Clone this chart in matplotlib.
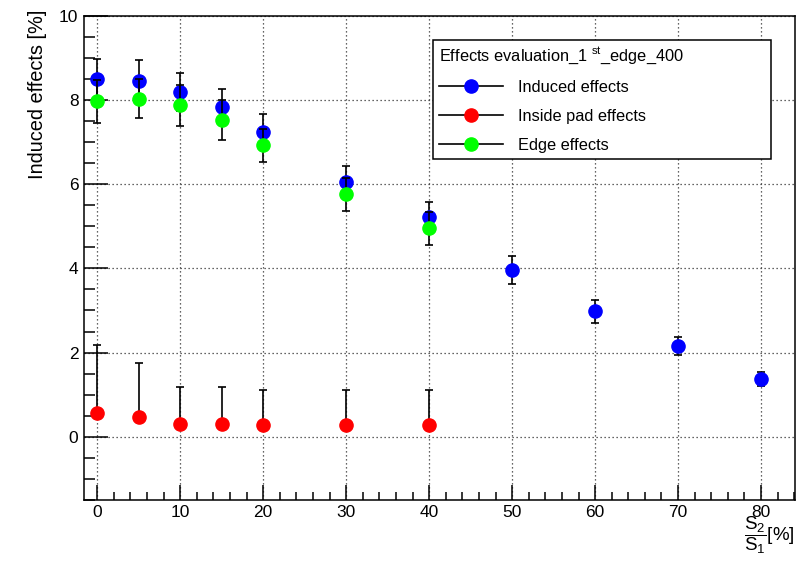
import matplotlib
matplotlib.use('Agg')
import matplotlib.pyplot as plt
from matplotlib.ticker import MultipleLocator

plt.rcParams['font.family'] = ['Liberation Sans', 'DejaVu Sans']
plt.rcParams['mathtext.fontset'] = 'custom'
plt.rcParams['mathtext.rm'] = 'Liberation Sans'
plt.rcParams['mathtext.it'] = 'Liberation Sans:italic'

# data
ratio = [0, 5, 10, 15, 20, 30, 40, 50, 60, 70, 80]
induced = [8.49, 8.45, 8.19, 7.83, 7.23, 6.04, 5.21, 3.97, 2.98, 2.16, 1.38]
induced_err = [0.49, 0.49, 0.45, 0.42, 0.43, 0.39, 0.37, 0.33, 0.27, 0.22, 0.17]

ratio_short = [0, 5, 10, 15, 20, 30, 40]
inside = [0.56, 0.46, 0.31, 0.31, 0.28, 0.28, 0.28]
inside_err_up = [1.63, 1.30, 0.88, 0.88, 0.82, 0.82, 0.82]
edge = [7.97, 8.03, 7.87, 7.52, 6.92, 5.76, 4.95]
edge_err = [0.51, 0.47, 0.48, 0.48, 0.40, 0.39, 0.40]

fig = plt.figure(figsize=(8.08, 5.63), dpi=100)
ax = fig.add_axes([0.104, 0.112, 0.880, 0.860])

eb = dict(fmt='o', ecolor='black', elinewidth=1.2, capsize=3, capthick=1.2,
          markersize=9.5, linestyle='none')

ax.errorbar(ratio, induced, yerr=induced_err, color='#0000ff',
            markeredgecolor='#0000ff', zorder=3, **eb)
ax.errorbar(ratio_short, inside, yerr=[[0] * len(inside), inside_err_up],
            color='#ff0000', markeredgecolor='#ff0000', zorder=4, **eb)
ax.errorbar(ratio_short, edge, yerr=edge_err, color='#00ff00',
            markeredgecolor='#00ff00', zorder=5, **eb)

ax.set_xlim(-1.6, 84.1)
ax.set_ylim(-1.5, 10)
ax.xaxis.set_major_locator(MultipleLocator(10))
ax.xaxis.set_minor_locator(MultipleLocator(2))
ax.yaxis.set_major_locator(MultipleLocator(2))
ax.yaxis.set_minor_locator(MultipleLocator(0.5))

ax.grid(True, which='major', color='#333333', linestyle=(0, (1, 2.2)), linewidth=0.9)
ax.tick_params(axis='x', which='major', direction='in', length=11, width=1.1,
               labelsize=12.5, pad=4)
ax.tick_params(axis='x', which='minor', direction='in', length=6, width=1.1)
ax.tick_params(axis='y', which='major', direction='in', length=17, width=1.1,
               labelsize=12.5, pad=4)
ax.tick_params(axis='y', which='minor', direction='in', length=8, width=1.1)
for s in ax.spines.values():
    s.set_linewidth(1.1)

# legend with line through the marker, as ROOT draws it
handles = []
for c in ['#0000ff', '#ff0000', '#00ff00']:
    h, = ax.plot([], [], color='black', lw=1.2, marker='o', markersize=9.5,
                 markerfacecolor=c, markeredgecolor=c)
    handles.append(h)
leg = ax.legend(handles,
                ['Induced effects', 'Inside pad effects', 'Edge effects'],
                title=r'Effects evaluation_1 $^{\mathrm{st}}$_edge_400',
                loc='upper left', bbox_to_anchor=(0.491, 0.702, 0.475, 0.248),
                mode='expand', fontsize=11.8, title_fontsize=11.8,
                handlelength=3.9, handletextpad=0.95, labelspacing=0.85,
                borderpad=0.35, fancybox=False, framealpha=1,
                edgecolor='black', borderaxespad=0)
leg._legend_box.align = 'left'
leg.get_frame().set_linewidth(1.1)
leg.set_zorder(10)

fig.text(38 / 808, 1 - 10 / 563, 'Induced effects [%]', rotation=90,
         ha='center', va='top', fontsize=14.4)
fig.text(0.984, 1 - 535 / 563, r'$\dfrac{\mathrm{S}_2}{\mathrm{S}_1}$[%]',
         ha='right', va='center', fontsize=13.5)

fig.savefig('out.png', dpi=100)
